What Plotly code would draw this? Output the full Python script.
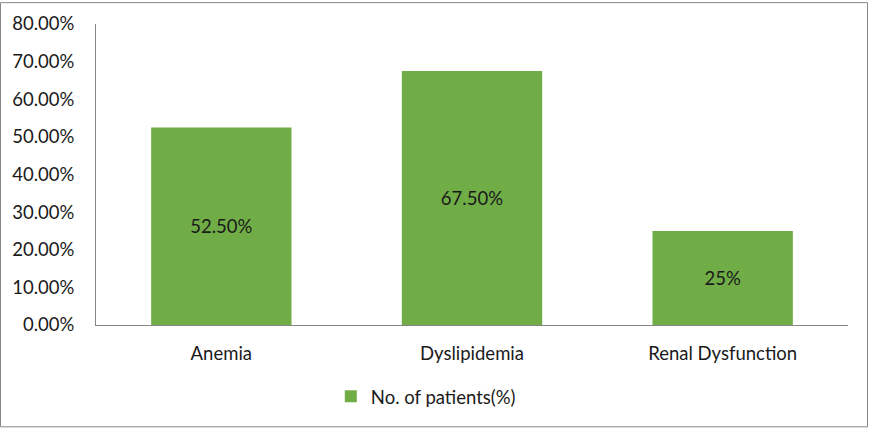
import plotly.graph_objects as go

# data
categories = ["Anemia", "Dyslipidemia", "Renal Dysfunction"]
patients_pct = [0.525, 0.675, 0.25]
bar_labels = ["52.50%", "67.50%", "25%"]
series_name = "No. of patients(%)"

GREEN = "#70AD47"
AXIS = "#868686"
TEXT = "#1a1a1a"
FONT = "Lato, 'Open Sans', sans-serif"
FS = 18.5

W, H = 869, 429
ml, mr, mt, mb = 96, 21, 22, 104

fig = go.Figure()
fig.add_trace(go.Bar(
    name=series_name,
    x=categories,
    y=patients_pct,
    text=bar_labels,
    textposition="inside",
    insidetextanchor="middle",
    textfont=dict(size=FS, color=TEXT, family=FONT),
    marker=dict(color=GREEN, line=dict(width=0)),
    width=0.56,
    showlegend=True,
))

fig.update_layout(
    width=W, height=H,
    margin=dict(l=ml, r=mr, t=mt, b=mb),
    plot_bgcolor="white",
    paper_bgcolor="white",
    font=dict(family=FONT, size=FS, color=TEXT),
    xaxis=dict(
        showline=True, linecolor=AXIS, linewidth=1,
        showgrid=False, ticks="", ticklabelstandoff=12,
        tickfont=dict(size=FS, color=TEXT),
    ),
    yaxis=dict(
        range=[0, 0.8], dtick=0.1, tickformat=".2%",
        showline=True, linecolor=AXIS, linewidth=1,
        showgrid=False, zeroline=False, ticks="",
        ticklabelstandoff=17,
        tickfont=dict(size=FS, color=TEXT),
    ),
    legend=dict(
        orientation="h",
        xref="container", x=0.49, xanchor="center",
        yref="container", y=0.075, yanchor="middle",
        font=dict(size=FS, color=TEXT),
    ),
    showlegend=True,
)

# outer chart border
pw, ph = W - ml - mr, H - mt - mb
fig.add_shape(
    type="rect", xref="paper", yref="paper",
    x0=-(ml - 0.5) / pw, x1=1 + (mr - 1.5) / pw,
    y0=-(mb - 1.5) / ph, y1=1 + (mt - 0.5) / ph,
    line=dict(color=AXIS, width=1), fillcolor="rgba(0,0,0,0)",
    layer="below",
)

fig.write_html("out.html", config={"displayModeBar": False},
               post_script="document.body.style.margin='0';")
